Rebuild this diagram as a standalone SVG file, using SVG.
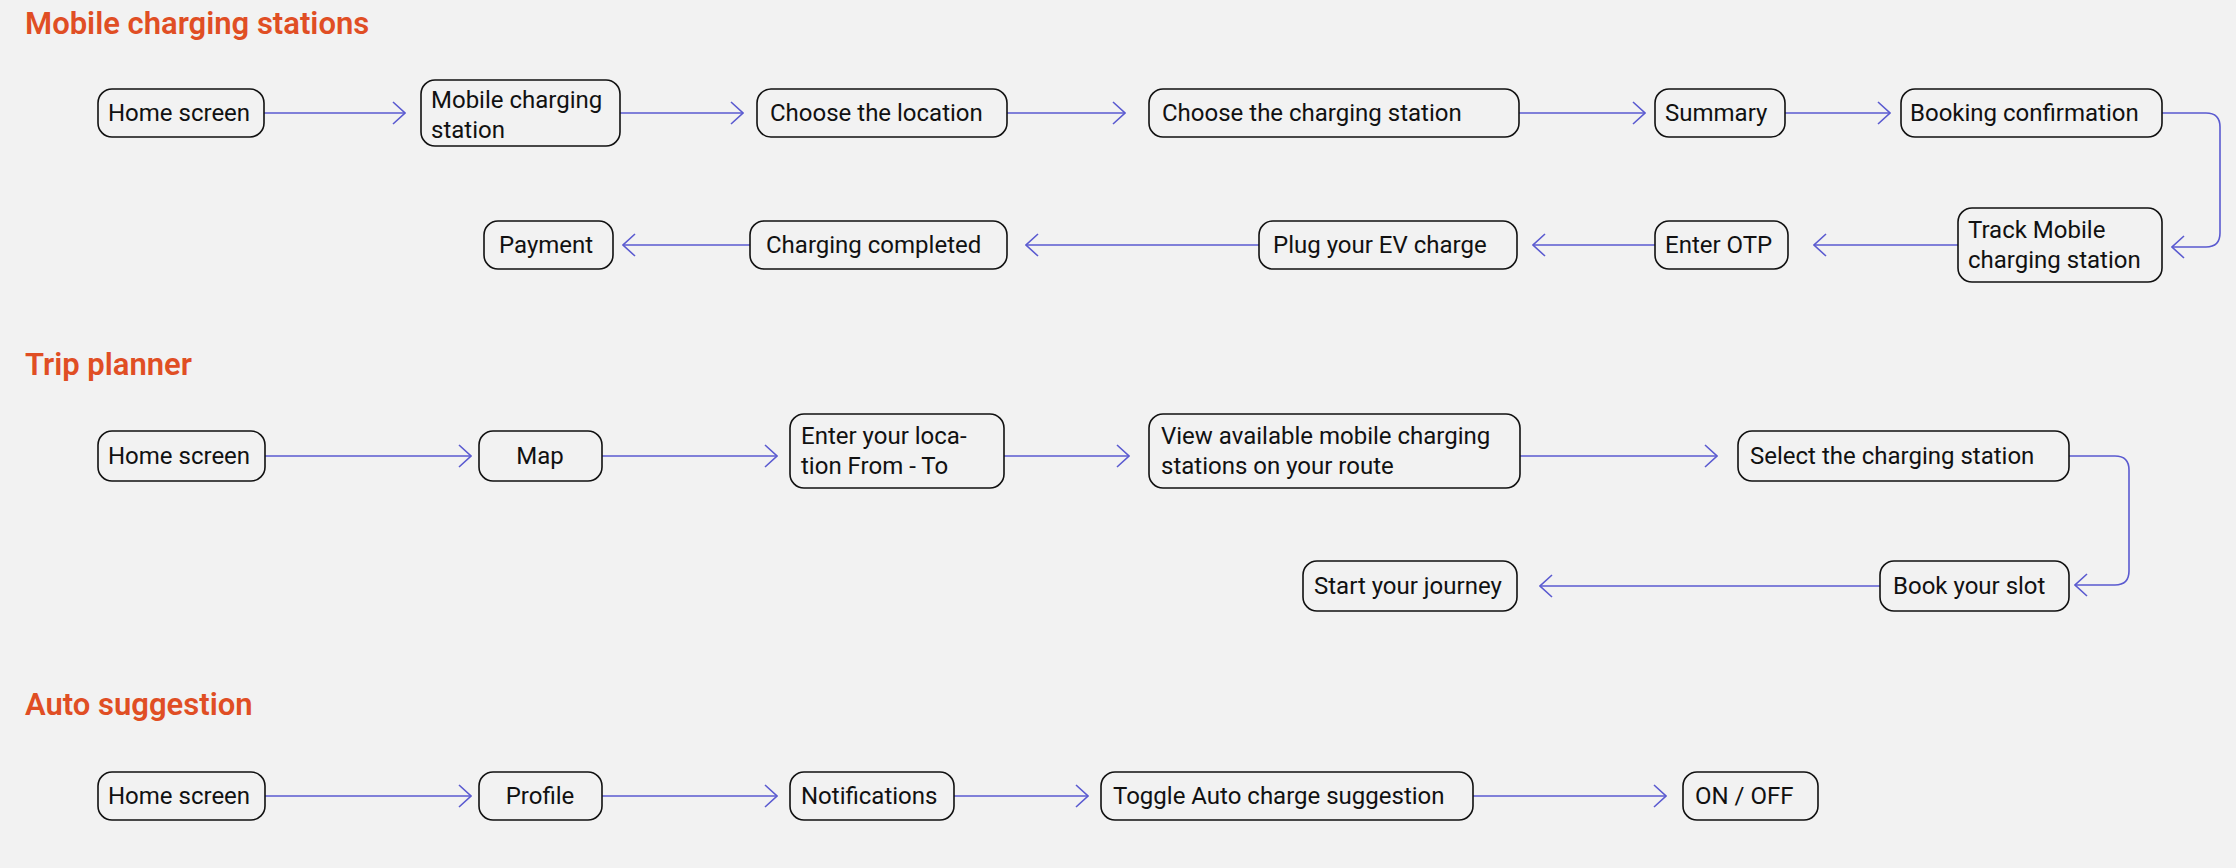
<svg xmlns="http://www.w3.org/2000/svg" width="2236" height="868" viewBox="0 0 2236 868">
<defs>
<style>
.t{font-family:Roboto,"Liberation Sans",sans-serif;font-size:24px;fill:#111}
.h{font-family:Roboto,"Liberation Sans",sans-serif;font-size:31px;font-weight:600;fill:#E04E24}
.b{fill:#f2f2f2;stroke:#111;stroke-width:1.6}
.c{fill:none;stroke:#5a5ad0;stroke-width:1.6;marker-end:url(#a)}
</style>
<marker id="a" viewBox="0 0 14 24" refX="13" refY="12" markerWidth="14" markerHeight="24" markerUnits="userSpaceOnUse" orient="auto"><path d="M1 1 L13 12 L1 23" fill="none" stroke="#5a5ad0" stroke-width="1.6"/></marker>
</defs>
<rect width="2236" height="868" fill="#f2f2f2"/>
<text class="h" x="25" y="34">Mobile charging stations</text>
<text class="h" x="25" y="375">Trip planner</text>
<text class="h" x="25" y="715">Auto suggestion</text>
<g id="connectors">
<path class="c" d="M264 113H405"/>
<path class="c" d="M620 113H743"/>
<path class="c" d="M1007 113H1125"/>
<path class="c" d="M1519 113H1645"/>
<path class="c" d="M1785 113H1890"/>
<path class="c" d="M2162 113H2206Q2220 113 2220 127V233Q2220 247 2206 247H2172"/>
<path class="c" d="M1958 245H1814"/>
<path class="c" d="M1655 245H1533"/>
<path class="c" d="M1259 245H1026"/>
<path class="c" d="M750 245H623"/>
<path class="c" d="M265 456H471"/>
<path class="c" d="M602 456H777"/>
<path class="c" d="M1004 456H1129"/>
<path class="c" d="M1520 456H1717"/>
<path class="c" d="M2069 456H2115Q2129 456 2129 470V571Q2129 585 2115 585H2075"/>
<path class="c" d="M1880 586H1540"/>
<path class="c" d="M265 796H471"/>
<path class="c" d="M602 796H777"/>
<path class="c" d="M954 796H1088"/>
<path class="c" d="M1473 796H1666"/>
</g>
<g id="n1"><rect class="b" x="98" y="89" width="166" height="48" rx="14"/><text class="t" x="108" y="121">Home screen</text></g>
<g id="n2"><rect class="b" x="421" y="80" width="199" height="66" rx="14"/><text class="t" x="431" y="108">Mobile charging</text><text class="t" x="431" y="138">station</text></g>
<g id="n3"><rect class="b" x="757" y="89" width="250" height="48" rx="14"/><text class="t" x="770" y="121">Choose the location</text></g>
<g id="n4"><rect class="b" x="1149" y="89" width="370" height="48" rx="14"/><text class="t" x="1162" y="121">Choose the charging station</text></g>
<g id="n5"><rect class="b" x="1655" y="89" width="130" height="48" rx="14"/><text class="t" x="1665" y="121">Summary</text></g>
<g id="n6"><rect class="b" x="1901" y="89" width="261" height="48" rx="14"/><text class="t" x="1910" y="121">Booking confirmation</text></g>
<g id="n7"><rect class="b" x="1958" y="208" width="204" height="74" rx="14"/><text class="t" x="1968" y="238">Track Mobile</text><text class="t" x="1968" y="268">charging station</text></g>
<g id="n8"><rect class="b" x="1655" y="221" width="133" height="48" rx="14"/><text class="t" x="1665" y="253">Enter OTP</text></g>
<g id="n9"><rect class="b" x="1259" y="221" width="258" height="48" rx="14"/><text class="t" x="1273" y="253">Plug your EV charge</text></g>
<g id="n10"><rect class="b" x="750" y="221" width="257" height="48" rx="14"/><text class="t" x="766" y="253">Charging completed</text></g>
<g id="n11"><rect class="b" x="484" y="221" width="129" height="48" rx="14"/><text class="t" x="499" y="253">Payment</text></g>
<g id="t1"><rect class="b" x="98" y="431" width="167" height="50" rx="14"/><text class="t" x="108" y="464">Home screen</text></g>
<g id="t2"><rect class="b" x="479" y="431" width="123" height="50" rx="14"/><text class="t" x="540" y="464" text-anchor="middle">Map</text></g>
<g id="t3"><rect class="b" x="790" y="414" width="214" height="74" rx="14"/><text class="t" x="801" y="444">Enter your loca-</text><text class="t" x="801" y="474">tion From - To</text></g>
<g id="t4"><rect class="b" x="1149" y="414" width="371" height="74" rx="14"/><text class="t" x="1161" y="444">View available mobile charging</text><text class="t" x="1161" y="474">stations on your route</text></g>
<g id="t5"><rect class="b" x="1738" y="431" width="331" height="50" rx="14"/><text class="t" x="1750" y="464">Select the charging station</text></g>
<g id="t6"><rect class="b" x="1880" y="561" width="189" height="50" rx="14"/><text class="t" x="1893" y="594">Book your slot</text></g>
<g id="t7"><rect class="b" x="1303" y="561" width="214" height="50" rx="14"/><text class="t" x="1314" y="594">Start your journey</text></g>
<g id="a1"><rect class="b" x="98" y="772" width="167" height="48" rx="14"/><text class="t" x="108" y="804">Home screen</text></g>
<g id="a2"><rect class="b" x="479" y="772" width="123" height="48" rx="14"/><text class="t" x="540" y="804" text-anchor="middle">Profile</text></g>
<g id="a3"><rect class="b" x="790" y="772" width="164" height="48" rx="14"/><text class="t" x="801" y="804">Notifications</text></g>
<g id="a4"><rect class="b" x="1101" y="772" width="372" height="48" rx="14"/><text class="t" x="1113" y="804">Toggle Auto charge suggestion</text></g>
<g id="a5"><rect class="b" x="1683" y="772" width="135" height="48" rx="14"/><text class="t" x="1695" y="804">ON / OFF</text></g>
</svg>
